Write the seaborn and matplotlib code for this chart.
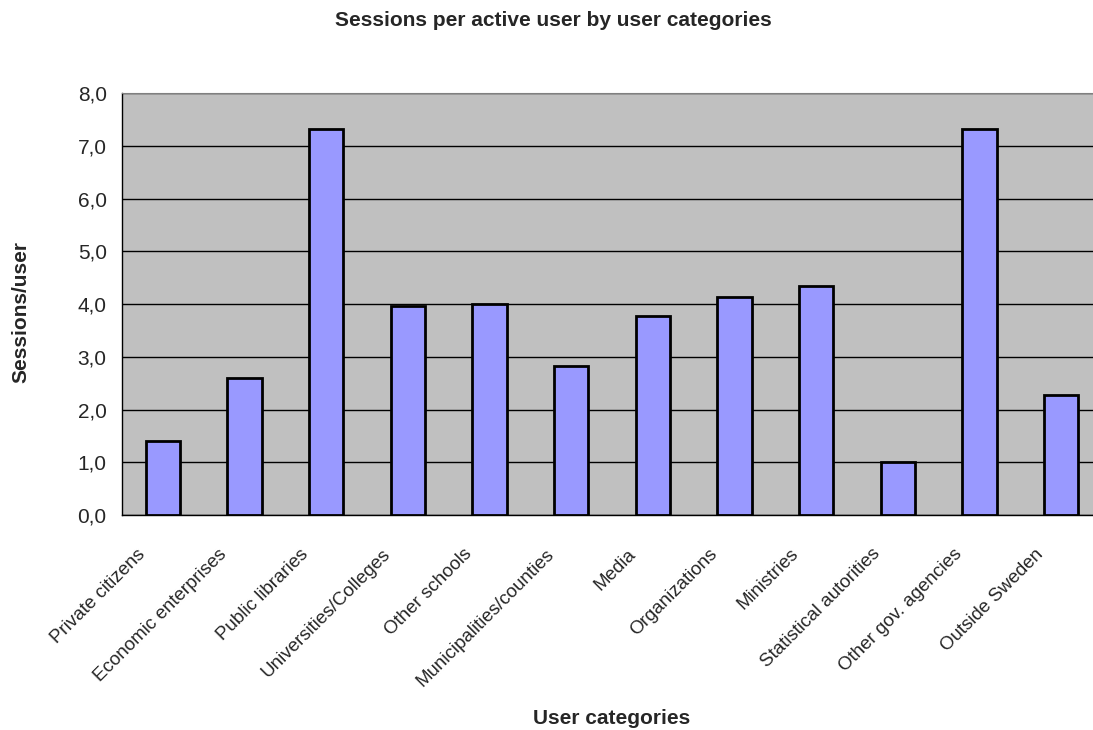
import numpy as np
import pandas as pd
import matplotlib
matplotlib.use("Agg")
import matplotlib.pyplot as plt
import seaborn as sns
from matplotlib.ticker import FuncFormatter, FixedLocator
from matplotlib.transforms import ScaledTranslation

# Data
categories = ["Private citizens", "Economic enterprises", "Public libraries",
              "Universities/Colleges", "Other schools", "Municipalities/counties",
              "Media", "Organizations", "Ministries", "Statistical autorities",
              "Other gov. agencies", "Outside Sweden"]
sessions = [1.40, 2.59, 7.31, 3.96, 4.00, 2.82, 3.77, 4.13, 4.34, 1.00, 7.31, 2.27]

df = pd.DataFrame({"Category": categories, "Sessions": sessions})

sns.set_style("white")
plt.rcParams["font.family"] = ["Liberation Sans", "DejaVu Sans"]

fig = plt.figure(figsize=(10.93, 7.30), dpi=100)
# plot area runs past the right edge, as in the cropped original
ax = fig.add_axes([122 / 1093, 1 - 515 / 730, 980 / 1093, 422 / 730])
ax.set_facecolor("#C0C0C0")

sns.barplot(data=df, x="Category", y="Sessions", order=categories,
            color="#9999FF", saturation=1, width=0.42,
            edgecolor="black", linewidth=2, ax=ax, zorder=3)

ax.set_ylim(0, 8)
ax.set_xlim(-0.5, len(categories) - 0.5)
ax.set_yticks(np.arange(0, 9, 1))
ax.yaxis.set_major_formatter(FuncFormatter(lambda v, p: f"{v:.1f}".replace(".", ",")))
ax.grid(axis="y", color="black", linewidth=1, zorder=1)
ax.set_axisbelow(True)

# ticks at category boundaries, labels at centres
ax.xaxis.set_minor_locator(FixedLocator(np.arange(-0.5, len(categories), 1)))
ax.tick_params(axis="x", which="major", length=0, pad=4)
ax.tick_params(axis="x", which="minor", length=6, width=1, color="black", direction="out")
ax.tick_params(axis="y", length=6, width=1, color="black", direction="out",
               labelsize=15, pad=5)
ax.set_xticks(range(len(categories)))
ax.set_xticklabels(categories, rotation=45, ha="right", va="center",
                   rotation_mode="anchor", fontsize=13.5)
for lbl in ax.get_xticklabels():
    lbl.set_transform(lbl.get_transform() + ScaledTranslation(-0.20, -0.31, fig.dpi_scale_trans))

for side in ["top", "right"]:
    ax.spines[side].set_color("#808080")
for side in ["left", "bottom"]:
    ax.spines[side].set_color("black")
    ax.spines[side].set_linewidth(1)

ax.set_xlabel("User categories", fontsize=15, fontweight="bold", labelpad=0)
ax.xaxis.set_label_coords(0.5, -(718 - 515) / 422, transform=ax.transAxes)
ax.xaxis.label.set_va("center")
ax.set_ylabel("Sessions/user", fontsize=15, fontweight="bold")
ax.yaxis.set_label_coords(-(122 - 21) / 980, (515 - 312) / 422)
ax.yaxis.label.set_va("center")
fig.text(553 / 1093, 1 - 20 / 730, "Sessions per active user by user categories",
         ha="center", va="center", fontsize=15, fontweight="bold")

fig.savefig("out.png", dpi=100)
